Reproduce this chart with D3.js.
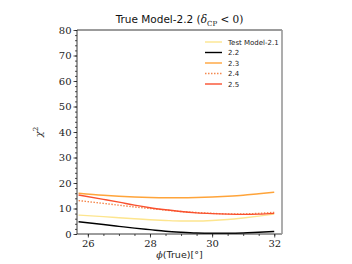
<!DOCTYPE html>
<html><head><meta charset="utf-8">
<script src="https://cdn.jsdelivr.net/npm/d3@7"></script>
<style>
  html,body{margin:0;padding:0;background:#fff;}
  svg{display:block;}
  .tick text{font-family:"DejaVu Serif",serif;font-size:10px;fill:#222;}
</style></head>
<body><div id="chart"></div>
<script>
/* ---- data: chi^2 vs phi(True) ---- */
const phi = [25.7, 26.5, 27, 27.5, 28, 28.5, 29, 29.5, 30, 30.5, 31, 31.5, 32];
const m21 = [7.4, 6.8, 6.4, 6.0, 5.6, 5.3, 5.1, 5.1, 5.3, 5.7, 6.3, 7.0, 7.8];
const m22 = [4.8, 3.7, 3.0, 2.3, 1.7, 1.1, 0.7, 0.4, 0.3, 0.3, 0.4, 0.7, 1.0];
const m23 = [16.0, 15.2, 14.8, 14.5, 14.3, 14.2, 14.2, 14.3, 14.5, 14.8, 15.2, 15.8, 16.4];
const m24 = [13.1, 12.0, 11.3, 10.6, 10.0, 9.4, 8.8, 8.4, 8.1, 7.9, 7.9, 8.1, 8.5];
const m25 = [15.3, 13.6, 12.5, 11.3, 10.3, 9.5, 8.8, 8.3, 8.0, 7.8, 7.7, 7.8, 8.1];
const xTicks = [26, 28, 30, 32];
const yTicks = [0, 10, 20, 30, 40, 50, 60, 70, 80];

const series = [
  {name:'Test Model-2.1', vals:m21, color:'#fde58e', dash:null},
  {name:'2.2', vals:m22, color:'#000000', dash:null},
  {name:'2.3', vals:m23, color:'#ffa43a', dash:null},
  {name:'2.4', vals:m24, color:'#f4884e', dash:'1.5,1.5'},
  {name:'2.5', vals:m25, color:'#f9502e', dash:null}
];

const W = 352, H = 264;
const m = {l:77, r:70, t:30, b:30};
const svg = d3.select('#chart').append('svg').attr('width', W).attr('height', H);

const x = d3.scaleLinear().domain([25.65, 32.25]).range([m.l, W - m.r]);
const y = d3.scaleLinear().domain([0, 80]).range([H - m.b, m.t]);

/* minor ticks */
const gx = svg.append('g').attr('transform', `translate(0,${H - m.b})`);
gx.call(d3.axisBottom(x).tickValues(d3.range(26, 32.01, 0.5)).tickSize(2).tickFormat(''));
const gy = svg.append('g').attr('transform', `translate(${m.l},0)`);
gy.call(d3.axisLeft(y).tickValues(d3.range(0, 80.01, 2)).tickSize(2).tickFormat(''));

/* major ticks */
svg.append('g').attr('transform', `translate(0,${H - m.b})`)
  .call(d3.axisBottom(x).tickValues(xTicks).tickSize(3.5).tickPadding(2).tickFormat(d3.format('d')));
svg.append('g').attr('transform', `translate(${m.l},0)`)
  .call(d3.axisLeft(y).tickValues(yTicks).tickSize(3.5).tickPadding(2).tickFormat(d3.format('d')));
svg.selectAll('.domain').remove();
svg.selectAll('.tick line').attr('stroke', '#222').attr('stroke-width', 0.8);

/* lines */
const line = d3.line().curve(d3.curveMonotoneX);
series.forEach(s => {
  svg.append('path')
    .attr('d', line(phi.map((p, i) => [x(p), y(s.vals[i])])))
    .attr('fill', 'none').attr('stroke', s.color).attr('stroke-width', 1.4)
    .attr('stroke-dasharray', s.dash);
});

/* spines */
const [x0, x1] = x.range(), [y0, y1] = y.range();
svg.append('path').attr('d', `M${x0},${y0}V${y1}H${x1}`).attr('fill', 'none').attr('stroke', '#222').attr('stroke-width', 0.9);
svg.append('line').attr('x1', x0).attr('x2', x1).attr('y1', y0).attr('y2', y0).attr('stroke', '#222').attr('stroke-width', 0.9);
svg.append('line').attr('x1', x1).attr('x2', x1).attr('y1', y0).attr('y2', y1).attr('stroke', '#999').attr('stroke-width', 1.6);

/* legend */
const lg = svg.append('g').attr('transform', 'translate(205,42)');
series.forEach((s, i) => {
  const r = lg.append('g').attr('transform', `translate(0,${i * 10.5})`);
  r.append('line').attr('x1', 0).attr('x2', 17).attr('stroke', s.color).attr('stroke-width', 1.4)
    .attr('stroke-dasharray', s.dash);
  r.append('text').attr('x', 23).attr('y', 2.5).text(s.name)
    .style('font-family', '"DejaVu Sans",sans-serif').style('font-size', '7px').attr('fill', '#222');
});

/* title */
const t = svg.append('text').attr('x', (x0 + x1) / 2).attr('y', 23).attr('text-anchor', 'middle')
  .style('font-family', '"DejaVu Sans",sans-serif').style('font-size', '10.5px').attr('fill', '#111');
t.append('tspan').text('True Model-2.2 (');
t.append('tspan').text('δ').style('font-family', '"DejaVu Serif",serif').style('font-style', 'italic');
t.append('tspan').text('CP').attr('dy', 2.5).style('font-family', '"DejaVu Serif",serif').style('font-size', '7px');
t.append('tspan').text(' < 0)').attr('dy', -2.5).style('font-family', '"DejaVu Serif",serif');

/* axis labels */
const xl = svg.append('text').attr('x', (x0 + x1) / 2).attr('y', 258).attr('text-anchor', 'middle')
  .style('font-family', '"DejaVu Sans",sans-serif').style('font-size', '9.5px').attr('fill', '#222');
xl.append('tspan').text('ϕ').style('font-family', '"DejaVu Serif",serif').style('font-style', 'italic');
xl.append('tspan').text('(True)[');
xl.append('tspan').text('°').style('font-family', '"DejaVu Serif",serif');
xl.append('tspan').text(']');

const yl = svg.append('text').attr('transform', `translate(42,${(y0 + y1) / 2}) rotate(-90)`)
  .attr('text-anchor', 'middle').style('font-family', '"DejaVu Serif",serif').style('font-size', '10px').attr('fill', '#222');
yl.append('tspan').text('χ').style('font-style', 'italic');
yl.append('tspan').text('2').attr('dy', -4).style('font-size', '7px');
</script></body></html>
